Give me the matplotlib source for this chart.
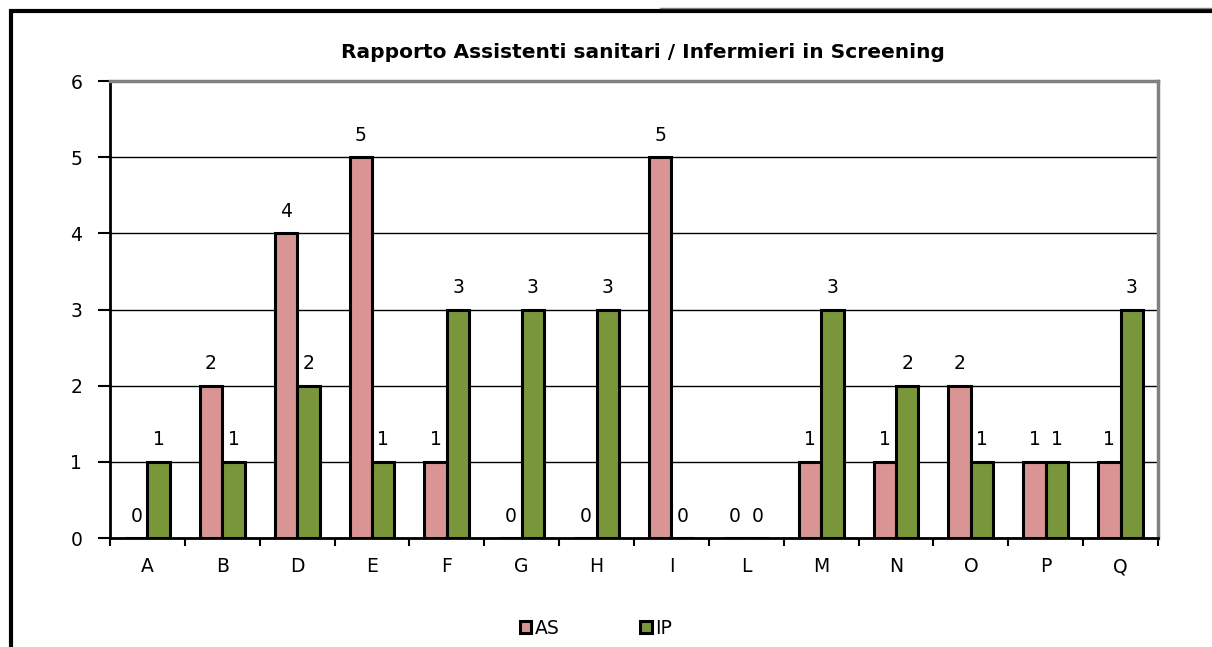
import numpy as np
import matplotlib
matplotlib.use('Agg')
import matplotlib.pyplot as plt
from matplotlib.patches import Rectangle

plt.rcParams['font.family'] = ['DejaVu Sans']

# dati
categorie = ['A', 'B', 'D', 'E', 'F', 'G', 'H', 'I', 'L', 'M', 'N', 'O', 'P', 'Q']
as_valori = [0, 2, 4, 5, 1, 0, 0, 5, 0, 1, 1, 2, 1, 1]
ip_valori = [1, 1, 2, 1, 3, 3, 3, 0, 0, 3, 2, 1, 1, 3]
serie = ['AS', 'IP']
colori = ['#D99594', '#7A963A']

fig = plt.figure(figsize=(12.12, 6.47), dpi=100)
ax = fig.add_axes([110/1212, 1-538/647, 1048/1212, 457/647])

x = np.arange(len(categorie))
w = 0.3
b1 = ax.bar(x - w/2, as_valori, w, color=colori[0], edgecolor='black', linewidth=2.2, label=serie[0], zorder=3)
b2 = ax.bar(x + w/2, ip_valori, w, color=colori[1], edgecolor='black', linewidth=2.2, label=serie[1], zorder=3)

# etichette dei valori sopra le barre
for bars, vals in [(b1, as_valori), (b2, ip_valori)]:
    for r, v in zip(bars, vals):
        ax.annotate(str(v), (r.get_x() + r.get_width()/2, v), xytext=(0, 9),
                    textcoords='offset points', ha='center', va='bottom', fontsize=13.5)

ax.set_xlim(-0.5, len(categorie) - 0.5)
ax.set_ylim(0, 6)
ax.set_yticks(range(0, 7))
ax.yaxis.grid(True, color='black', linewidth=1)
ax.set_axisbelow(True)

ax.set_xticks(x)
ax.set_xticklabels(categorie, fontsize=13.5)
ax.set_xticks(np.arange(-0.5, len(categorie)), minor=True)
ax.tick_params(axis='x', which='major', length=0, pad=14)
ax.tick_params(axis='x', which='minor', length=6, width=1.5, direction='out')
ax.tick_params(axis='y', labelsize=13.5, length=9, width=1.5, direction='out', pad=11)

for s in ['left', 'bottom']:
    ax.spines[s].set_linewidth(2)
    ax.spines[s].set_color('black')
for s in ['top', 'right']:
    ax.spines[s].set_linewidth(2.5)
    ax.spines[s].set_color('#808080')

fig.text(643/1212, 1-52/647, 'Rapporto Assistenti sanitari / Infermieri in Screening',
         ha='center', va='center', fontsize=14.5, fontweight='bold')

fig.legend(handles=[b1, b2], labels=serie, loc='center', bbox_to_anchor=(596/1212, 1-628/647),
           ncol=2, frameon=False, fontsize=13.5, handlelength=0.6, handleheight=0.6,
           columnspacing=4.3, handletextpad=0.2)

# cornice del grafico
fig.add_artist(Rectangle((11/1212, -0.1), 1.2, 1 - 11/647 + 0.1, transform=fig.transFigure,
                         fill=False, edgecolor='black', linewidth=3))
fig.add_artist(plt.Line2D([660/1212, 1], [1-8/647, 1-8/647], transform=fig.transFigure,
                          color='#808080', linewidth=1))

fig.savefig('out.png', dpi=100)
